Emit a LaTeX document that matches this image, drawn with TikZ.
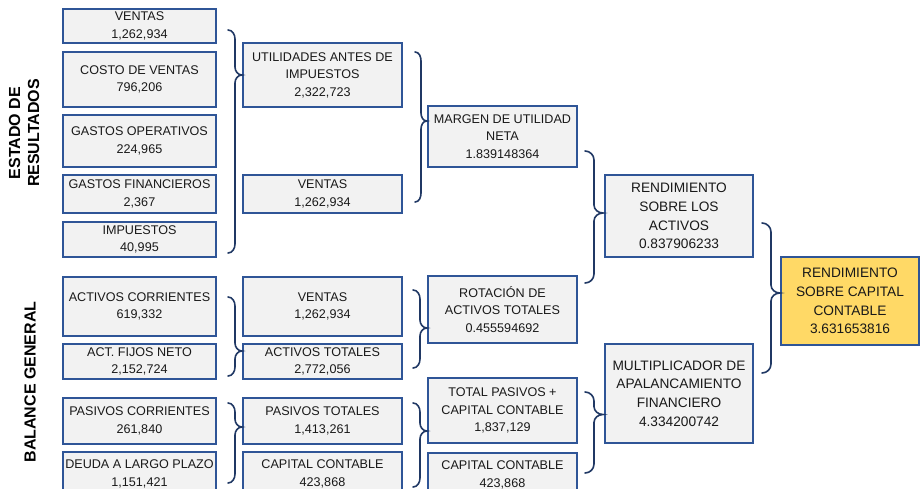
\documentclass[tikz,border=0pt]{standalone}
\usepackage{fontspec}
\setmainfont{Liberation Sans}
\usetikzlibrary{calc}
\definecolor{boxfill}{HTML}{F2F2F2}
\definecolor{boxline}{HTML}{2F5597}
\definecolor{braceline}{HTML}{203864}
\definecolor{goldfill}{HTML}{FFD966}
\tikzset{
  cell/.style={draw=boxline, line width=2pt, fill=boxfill, inner sep=0pt, align=center,
    font=\fontsize{12.6}{17.5}\selectfont, text=black!90},
  bigcell/.style={cell, font=\fontsize{13.7}{18.7}\selectfont},
  goldcell/.style={bigcell, fill=goldfill},
  brc/.style={draw=braceline, line width=1.6pt, line cap=round},
  sidelabel/.style={font=\bfseries\fontsize{16}{19}\selectfont, rotate=90, align=center, inner sep=0pt}
}
\newcommand\cellbox[7][cell]{%
  \pgfmathsetmacro\cx{(#3+#5)/2}\pgfmathsetmacro\cy{(#4+#6)/2}%
  \pgfmathsetmacro\cw{#5-#3}\pgfmathsetmacro\ch{#6-#4}%
  \node[#1, minimum width=\cw pt, minimum height=\ch pt] (#2) at (\cx,\cy) {#7};}
\newcommand\grpbrace[3]{%
  \draw[brc] let \p1=(#1),\p2=(#2),\p3=(#3) in
    (\p1) to[out=0,in=90] ({0.5*\x1+0.5*\x2},{\y1-9pt})
    -- ({0.5*\x1+0.5*\x2},{\y2+8pt}) to[out=-90,in=180] (\p2)
    to[out=180,in=90] ({0.5*\x1+0.5*\x2},{\y2-8pt})
    -- ({0.5*\x1+0.5*\x2},{\y3+9pt}) to[out=-90,in=0] (\p3);}
\begin{document}
\begin{tikzpicture}[x=1pt,y=-1pt]
\useasboundingbox (0,0) rectangle (922,488);
% side labels
\node[sidelabel] (lab1) at (24,133) {ESTADO DE\\RESULTADOS};
\node[sidelabel] (lab2) at (30,382) {BALANCE GENERAL};
% column 1
\cellbox{v1}{63}{9}{216}{43}{VENTAS\\1,262,934}
\cellbox{cv}{63}{52}{216}{107}{COSTO DE VENTAS\\796,206}
\cellbox{go}{63}{115}{216}{167}{GASTOS OPERATIVOS\\224,965}
\cellbox{gf}{63}{175}{216}{213}{GASTOS FINANCIEROS\\2,367}
\cellbox{imp}{63}{222}{216}{257}{IMPUESTOS\\40,995}
\cellbox{ac}{63}{277}{216}{336}{ACTIVOS CORRIENTES\\619,332}
\cellbox{af}{63}{344}{216}{379}{ACT. FIJOS NETO\\2,152,724}
\cellbox{pc}{63}{398}{216}{444}{PASIVOS CORRIENTES\\261,840}
\cellbox{dlp}{63}{452}{216}{496}{DEUDA A LARGO PLAZO\\1,151,421}
% column 2
\cellbox{uai}{243}{43}{402}{107}{UTILIDADES ANTES DE\\IMPUESTOS\\2,322,723}
\cellbox{v2}{243}{175}{402}{213}{VENTAS\\1,262,934}
\cellbox{v3}{243}{277}{402}{336}{VENTAS\\1,262,934}
\cellbox{at}{243}{344}{402}{379}{ACTIVOS TOTALES\\2,772,056}
\cellbox{pt}{243}{398}{402}{444}{PASIVOS TOTALES\\1,413,261}
\cellbox{cc}{243}{452}{402}{496}{CAPITAL CONTABLE\\423,868}
% column 3
\cellbox{mun}{428}{106}{577}{167}{MARGEN DE UTILIDAD\\NETA\\1.839148364}
\cellbox{rot}{428}{276}{577}{343}{ROTACIÓN DE\\ACTIVOS TOTALES\\0.455594692}
\cellbox{tpc}{428}{378}{577}{443}{TOTAL PASIVOS +\\CAPITAL CONTABLE\\1,837,129}
\cellbox{cc2}{428}{453}{577}{497}{CAPITAL CONTABLE\\423,868}
% column 4
\cellbox[bigcell]{rsa}{605}{175}{753}{257}{RENDIMIENTO\\SOBRE LOS\\ACTIVOS\\0.837906233}
\cellbox[bigcell]{mult}{605}{344}{753}{443}{MULTIPLICADOR DE\\APALANCAMIENTO\\FINANCIERO\\4.334200742}
% column 5
\cellbox[goldcell]{rsc}{781}{257}{919}{345}{RENDIMIENTO\\SOBRE CAPITAL\\CONTABLE\\3.631653816}
% brace end points and tips
\coordinate (b1a) at (228,30);  \coordinate (b1b) at (228,253);
\coordinate (t1) at (uai.west);
\coordinate (b2a) at (415,52);  \coordinate (b2b) at (415,202);
\coordinate (t2) at ($(mun.north west)+(0,16)$);
\coordinate (b3a) at (585,151); \coordinate (b3b) at (585,283);
\coordinate (t3) at ($(rsa.west)+(-1,-3)$);
\coordinate (b4a) at (762,223); \coordinate (b4b) at (762,373);
\coordinate (t4) at ($(rsc.west)+(0,-8)$);
\coordinate (b5a) at (228,297); \coordinate (b5b) at (228,376);
\coordinate (t5) at ($(at.north west)+(0,8)$);
\coordinate (b6a) at (228,403); \coordinate (b6b) at (228,483);
\coordinate (t6) at ($(pt.west)+(0,6)$);
\coordinate (b7a) at (413,290); \coordinate (b7b) at (413,368);
\coordinate (t7) at ($(rot.south west)+(0,-16)$);
\coordinate (b8a) at (413,403); \coordinate (b8b) at (413,487);
\coordinate (t8) at ($(tpc.south west)+(0,-13)$);
\coordinate (b9a) at (585,392); \coordinate (b9b) at (585,473);
\coordinate (t9) at ($(mult.west)+(-1,21)$);
% braces
\grpbrace{b1a}{t1}{b1b}
\grpbrace{b2a}{t2}{b2b}
\grpbrace{b3a}{t3}{b3b}
\grpbrace{b4a}{t4}{b4b}
\grpbrace{b5a}{t5}{b5b}
\grpbrace{b6a}{t6}{b6b}
\grpbrace{b7a}{t7}{b7b}
\grpbrace{b8a}{t8}{b8b}
\grpbrace{b9a}{t9}{b9b}
\end{tikzpicture}
\end{document}
